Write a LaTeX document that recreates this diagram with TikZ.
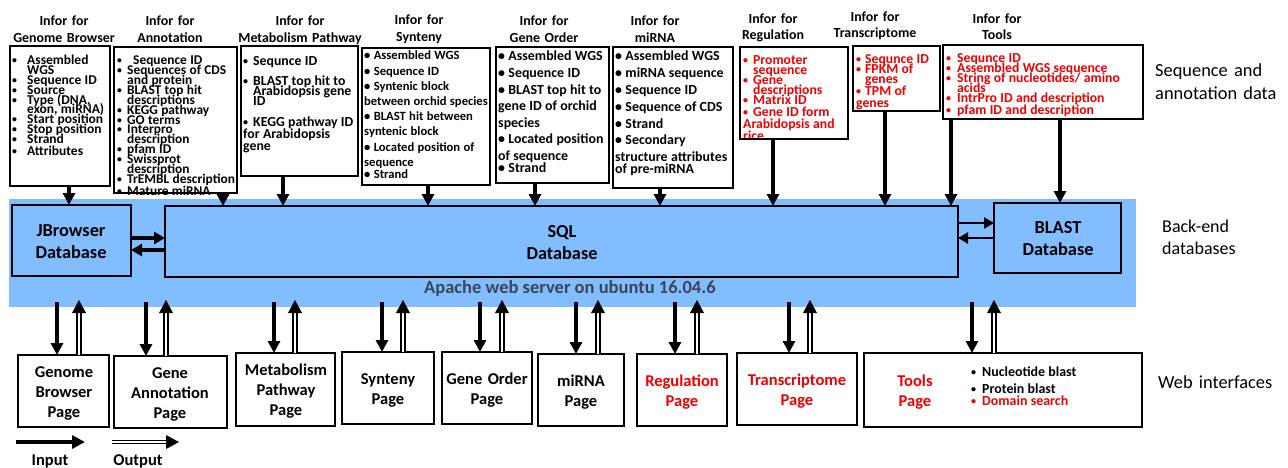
\documentclass[tikz,border=0pt]{standalone}
\usepackage{fontspec}
\usepackage{graphicx}
\setmainfont{Carlito}
\usetikzlibrary{arrows.meta,fit,decorations.markings}
\definecolor{bandblue}{RGB}{130,190,255}
\definecolor{myred}{RGB}{238,0,0}
\definecolor{apachegray}{RGB}{58,70,86}
\newcommand{\setfs}[2]{\fontsize{#1}{#2}\selectfont\lineskiplimit=-100pt\lineskip=0pt\relax}
\newcommand{\sbul}{\raisebox{1pt}{\scalebox{0.72}{\textbullet}}}
\newcommand{\hfirst}[2]{\hangindent=#1\hangafter=1\makebox[#1][l]{\sbul}#2}
\newcommand{\hnext}[2]{\par\noindent\hangindent=#1\hangafter=1\makebox[#1][l]{\sbul}#2}
\begin{document}
\begin{tikzpicture}[x=1pt,y=-1pt,
  ibox/.style={draw=black,line width=2pt,inner sep=0pt,outer sep=0pt},
  dbox/.style={draw=black,line width=2pt,fill=bandblue,inner sep=0pt,outer sep=0pt},
  pbox/.style={draw=black,line width=2.4pt,inner sep=0pt,outer sep=0pt},
  hdr/.style={anchor=base,inner sep=0pt,text width=170pt,align=center,font=\bfseries\setfs{13.9}{17}},
  lst/.style={anchor=base west,inner sep=0pt,text width=220pt,align=left,font=\bfseries},
  plbl/.style={anchor=base,inner sep=0pt,text width=140pt,align=center,font=\bfseries\setfs{16.5}{20}},
  dblbl/.style={anchor=base,inner sep=0pt,text width=140pt,align=center,font=\bfseries\setfs{18.3}{22}},
  side/.style={anchor=base west,inner sep=0pt,text width=160pt,align=left,font=\setfs{18.4}{23}},
  inarr/.style={line width=3.5pt,-{Triangle[width=12pt,length=12pt]}},
  harr/.style={line width=3.5pt,-{Triangle[width=12pt,length=11pt]}},
  tharr/.style={line width=2.4pt,-{Triangle[width=11pt,length=10pt]}},
  legin/.style={line width=4pt,-{Triangle[width=13pt,length=13pt]}},
  outarr/.style={draw=black,double=white,double distance=2.4pt,line width=1.5pt,shorten >=11pt,
    postaction={decorate},
    decoration={markings,mark=at position 1 with {\fill[black] (0pt,0pt) -- (-13pt,7pt) -- (-13pt,-7pt) -- cycle;}}},
]
\useasboundingbox (0,0) rectangle (1288,468);
\fill[white] (0,0) rectangle (1288,468);

% back-end band
\node[fill=bandblue,inner sep=0pt,outer sep=0pt,fit={(9,199) (1136,307)}] (band) {};
\node[dbox,fit={(12,205) (131,276)}] (jb) {};
\node[dbox,fit={(165,206) (958,277)}] (sql) {};
\node[dbox,fit={(994,203) (1121,273)}] (blast) {};
\node[dblbl] (jbt) at (71,236) {JBrowser\\Database};
\node[dblbl] (sqlt) at (562,237) {SQL\\Database};
\node[dblbl] (blt) at (1058,233) {BLAST\\Database};
\node[anchor=base west,inner sep=0pt,font=\bfseries\setfs{18.5}{22},text=apachegray] (apache) at (424,293) {Apache web server on ubuntu 16.04.6};

% headers
\node[hdr] (h1) at (64,26) {Infor for\\Genome Browser};
\node[hdr] (h2) at (170,26) {Infor for\\Annotation};
\node[hdr] (h3) at (300,26) {Infor for\\Metabolism Pathway};
\node[hdr] (h4) at (419,25) {Infor for\\Synteny};
\node[hdr] (h5) at (544,26) {Infor for\\Gene Order};
\node[hdr] (h6) at (655,26) {Infor for\\miRNA};
\node[hdr,font=\bfseries\setfs{13.9}{16}] (h7) at (773,24) {Infor for\\Regulation};
\node[hdr,font=\bfseries\setfs{13.9}{16}] (h8) at (875,22) {Infor for\\Transcriptome};
\node[hdr,font=\bfseries\setfs{13.9}{16}] (h9) at (997,24) {Infor for\\Tools};

% lists
\node[lst] (l1) at (12,65) {\setfs{13.5}{9.8}\hfirst{15pt}{Assembled\newline WGS}\hnext{15pt}{Sequence ID}\hnext{15pt}{Source}\hnext{15pt}{Type (DNA,\newline exon, miRNA)}\hnext{15pt}{Start position}\hnext{15pt}{Stop position}\hnext{15pt}{Strand}\hnext{15pt}{Attributes}};
\node[lst] (l2) at (117,65) {\setfs{13.4}{9.85}\hfirst{10pt}{\hspace{6pt}Sequence ID}\hnext{10pt}{Sequences of CDS\newline and protein}\hnext{10pt}{BLAST top hit\newline descriptions}\hnext{10pt}{KEGG pathway}\hnext{10pt}{GO terms}\hnext{10pt}{Interpro\newline description}\hnext{10pt}{pfam ID}\hnext{10pt}{Swissprot\newline description}\hnext{10pt}{TrEMBL description}\hnext{10pt}{Mature miRNA}};
\node[lst] (l3) at (243,66) {\setfs{13.8}{9.7}\hfirst{10pt}{Sequnce ID}\par\vspace{10pt}\hnext{10pt}{BLAST top hit to\newline Arabidopsis gene\newline ID}\par\vspace{9.5pt}\hnext{10pt}{KEGG pathway ID\newline for Arabidopsis\newline gene}};
\node[lst] (l4) at (364,60) {\setfs{12.6}{15.2}\textbullet\ Assembled WGS\\\textbullet\ Sequence ID\\\textbullet\ Syntenic block\\between orchid species\\\textbullet\ BLAST hit between\\syntenic block\\\textbullet\ Located position of\\sequence\\\textbullet\ Strand};
\node[lst] (l5) at (498,61) {\setfs{13.9}{16.6}\textbullet\ Assembled WGS\\\textbullet\ Sequence ID\\\textbullet\ BLAST top hit to\\gene ID of orchid\\species\\\textbullet\ Located position\\of sequence\\\textbullet\ Strand};
\node[lst] (l6) at (615,61) {\setfs{13.9}{16.8}\textbullet\ Assembled WGS\\\textbullet\ miRNA sequence\\\textbullet\ Sequence ID\\\textbullet\ Sequence of CDS\\\textbullet\ Strand\\\textbullet\ Secondary\\structure attributes\\of pre-miRNA};
\node[lst,text=myred] (l7) at (743,65) {\setfs{13.7}{9.9}\hfirst{10pt}{Promoter\newline sequence}\hnext{10pt}{Gene\newline descriptions}\hnext{10pt}{Matrix ID}\hnext{10pt}{Gene ID form\newline Arabidopsis and\newline rice}};
\node[lst,text=myred] (l8) at (856,64) {\setfs{13.7}{9.8}\hfirst{9pt}{Sequnce ID}\hnext{9pt}{FPKM of\newline genes}\hnext{9pt}{TPM of\newline genes}};
\node[lst,text=myred] (l9) at (946,63) {\setfs{13.7}{9.8}\hfirst{11pt}{Sequnce ID}\hnext{11pt}{Assembled WGS sequence}\hnext{11pt}{String of nucleotides/ amino\newline acids}\hnext{11pt}{IntrPro ID and description}\hnext{11pt}{pfam ID and description}};

% info boxes
\node[ibox,fit={(10,46) (110,186)}] (gbinfo) {};
\node[ibox,fit={(114,47) (237,193)}] (aninfo) {};
\node[ibox,fit={(241,46) (358,176)}] (mpinfo) {};
\node[ibox,fit={(362,48) (490,185)}] (syinfo) {};
\node[ibox,fit={(496,47) (609,183)}] (goinfo) {};
\node[ibox,fit={(613,47) (733,188)}] (miinfo) {};
\node[ibox,fit={(740,47) (848,139)}] (rginfo) {};
\node[ibox,fit={(853,46) (940,111)}] (trinfo) {};
\node[ibox,fit={(943,45) (1143,119)}] (tlinfo) {};

% arrows from info boxes to databases
\foreach \xx/\src/\dst [count=\i] in {69/gbinfo/jb,223/aninfo/sql,283/mpinfo/sql,428/syinfo/sql,535/goinfo/sql,660/miinfo/sql,773/rginfo/sql,885/trinfo/sql,951/tlinfo/sql,1060/tlinfo/blast}{
  \coordinate (tx\i) at (\xx,0);
  \draw[inarr] (tx\i |- \src.south) -- (tx\i |- \dst.north);
}

% database links
\coordinate (hy1) at (0,238);
\coordinate (hy2) at (0,250);
\coordinate (hy3) at (0,223);
\coordinate (hy4) at (0,238);
\draw[harr] (hy1 -| jb.east) -- (hy1 -| sql.west);
\draw[harr] (hy2 -| sql.west) -- (hy2 -| jb.east);
\draw[tharr] (hy3 -| sql.east) -- (hy3 -| blast.west);
\draw[tharr] (hy4 -| blast.west) -- (hy4 -| sql.east);

% web pages
\node[pbox,fit={(18,355) (109,427)}] (gbp) {};
\node[pbox,fit={(114,356) (227,428)}] (gap) {};
\node[pbox,fit={(236,353) (335,426)}] (mpp) {};
\node[pbox,fit={(342,352) (434,424)}] (syp) {};
\node[pbox,fit={(442,352) (532,424)}] (gop) {};
\node[pbox,fit={(538,354) (624,426)}] (mip) {};
\node[pbox,fit={(637,354) (727,426)}] (rgp) {};
\node[pbox,fit={(737,353) (857,425)}] (trp) {};
\node[pbox,fit={(864,353) (1142,427)}] (tlp) {};

\node[plbl] (gbpt) at (64,377) {Genome\\Browser\\Page};
\node[plbl] (gapt) at (170,378) {Gene\\Annotation\\Page};
\node[plbl] (mppt) at (286,375) {Metabolism\\Pathway\\Page};
\node[plbl] (sypt) at (388,384) {Synteny\\Page};
\node[plbl] (gopt) at (487,384) {Gene Order\\Page};
\node[plbl] (mipt) at (581,386) {miRNA\\Page};
\node[plbl,text=myred] (rgpt) at (682,386) {Regulation\\Page};
\node[plbl,text=myred] (trpt) at (797,385) {Transcriptome\\Page};
\node[plbl,text=myred] (tlpt) at (915,386) {Tools\\Page};
\node[lst] (tlbul) at (971,376) {\setfs{13.9}{17.5}\hfirst{11pt}{Nucleotide blast}\hnext{11pt}{Protein blast}\par\noindent\hangindent=11pt\hangafter=1\textcolor{myred}{\makebox[11pt][l]{\sbul}Domain search}};

% arrows between band and pages
\foreach \dx/\ux/\nm in {57/79/gbp,146/166/gap,274/295/mpp,382/403/syp,480/502/gop,576/598/mip,675/697/rgp,789/810/trp,972/994/tlp}{
  \coordinate (dn-\nm) at (\dx,302);
  \coordinate (up-\nm) at (\ux,300);
  \draw[inarr] (dn-\nm) -- (dn-\nm |- \nm.north);
  \draw[outarr] (up-\nm |- \nm.north) -- (up-\nm);
}

% side labels
\node[side] (s1) at (1155,77) {Sequence and\\annotation data};
\node[side,font=\setfs{18}{22}] (s2) at (1162,232) {Back-end\\databases};
\node[side] (s3) at (1158,388) {Web interfaces};

% legend
\coordinate (inS) at (16,442);
\coordinate (inE) at (85,442);
\coordinate (outS) at (112,442);
\coordinate (outE) at (179,442);
\draw[legin] (inS) -- (inE);
\draw[outarr,line width=1.3pt,double distance=2.2pt] (outS) -- (outE);
\node[plbl] (inl) at (50,465) {Input};
\node[plbl] (outl) at (138,465) {Output};
\end{tikzpicture}
\end{document}
